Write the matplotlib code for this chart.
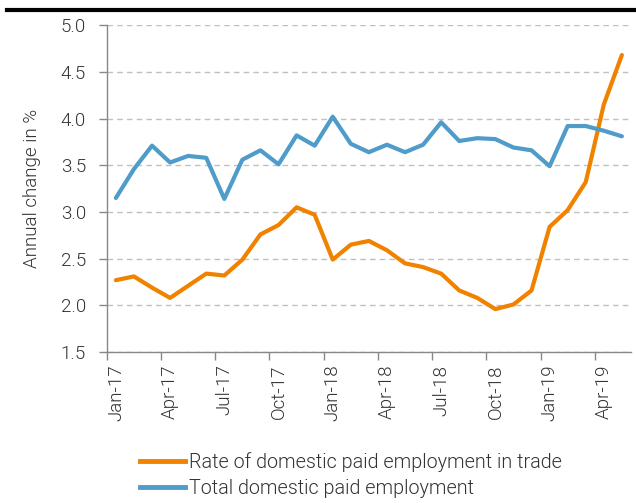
import matplotlib
matplotlib.use("Agg")
import matplotlib.pyplot as plt
from matplotlib.lines import Line2D

plt.rcParams["font.family"] = ["Roboto", "DejaVu Sans"]

# ── data ────────────────────────────────────────────
months = [
    "Jan-17", "Feb-17", "Mar-17", "Apr-17", "May-17", "Jun-17",
    "Jul-17", "Aug-17", "Sep-17", "Oct-17", "Nov-17", "Dec-17",
    "Jan-18", "Feb-18", "Mar-18", "Apr-18", "May-18", "Jun-18",
    "Jul-18", "Aug-18", "Sep-18", "Oct-18", "Nov-18", "Dec-18",
    "Jan-19", "Feb-19", "Mar-19", "Apr-19", "May-19",
]

trade = [
    2.27, 2.31, 2.19, 2.08, 2.21, 2.34, 2.32, 2.49, 2.76, 2.86,
    3.05, 2.97, 2.49, 2.65, 2.69, 2.59, 2.45, 2.41, 2.34, 2.16,
    2.08, 1.96, 2.01, 2.16, 2.84, 3.02, 3.32, 4.15, 4.68,
]

total = [
    3.15, 3.46, 3.71, 3.53, 3.60, 3.58, 3.14, 3.56, 3.66, 3.51,
    3.82, 3.71, 4.02, 3.73, 3.64, 3.72, 3.64, 3.72, 3.96, 3.76,
    3.79, 3.78, 3.69, 3.66, 3.49, 3.92, 3.92, 3.87, 3.81,
]

label_trade = "Rate of domestic paid employment in trade"
label_total = "Total domestic paid employment"

COLOR_TRADE = "#F08200"
COLOR_TOTAL = "#4F9BC9"
TEXT = "#333333"
FS = 13.5
W = 300

# ── plot ────────────────────────────────────────────
fig = plt.figure(figsize=(6.36, 5.03), dpi=100)
ax = fig.add_axes([0.168, 0.300, 0.824, 0.650])

x = list(range(len(months)))
ax.plot(x, trade, color=COLOR_TRADE, linewidth=3.0,
        solid_capstyle="round", solid_joinstyle="round", label=label_trade)
ax.plot(x, total, color=COLOR_TOTAL, linewidth=3.0,
        solid_capstyle="round", solid_joinstyle="round", label=label_total)

ax.set_xlim(-0.5, len(months) - 0.5)
ax.set_ylim(1.5, 5.0)

# y axis
yt = [1.5, 2.0, 2.5, 3.0, 3.5, 4.0, 4.5, 5.0]
ax.set_yticks(yt)
ax.set_yticklabels([f"{v:.1f}" for v in yt], fontsize=FS, color=TEXT,
                   fontweight=W)
ax.tick_params(axis="y", length=6, width=1, color="#888888", pad=9)
ax.yaxis.grid(True, linestyle=(0, (4, 3)), color="#c0c0c0", linewidth=1)
ax.set_axisbelow(True)
ax.set_ylabel("Annual change in %", fontsize=FS, color=TEXT,
              fontweight=W, labelpad=14)

# x axis: ticks at category boundaries, labels every 3rd month
ax.set_xticks([i - 0.5 for i in range(0, len(months) - 1, 3)])
ax.set_xticklabels([])
ax.tick_params(axis="x", which="major", length=6, width=1, color="#888888")
ax.set_xticks(list(range(0, len(months), 3)), minor=True)
ax.set_xticklabels(months[::3], minor=True, rotation=90, fontsize=FS,
                   color=TEXT, fontweight=W)
ax.tick_params(axis="x", which="minor", length=0, pad=9)

for s in ["top", "right"]:
    ax.spines[s].set_visible(False)
for s in ["left", "bottom"]:
    ax.spines[s].set_color("#888888")
    ax.spines[s].set_linewidth(1)

# legend
leg = fig.legend(
    handles=[
        Line2D([0], [0], color=COLOR_TRADE, linewidth=3.5),
        Line2D([0], [0], color=COLOR_TOTAL, linewidth=3.5),
    ],
    labels=[label_trade, label_total],
    loc="upper left",
    bbox_to_anchor=(0.22, 0.102),
    frameon=False,
    fontsize=14.2,
    handlelength=2.3,
    handletextpad=0.2,
    labelspacing=0.35,
    borderaxespad=0,
    borderpad=0,
)
for t in leg.get_texts():
    t.set_color(TEXT)
    t.set_fontweight(W)

# top rule
fig.add_artist(Line2D([0.011, 0.998], [0.980, 0.980], color="black",
                      linewidth=3, transform=fig.transFigure))

fig.savefig("out.png", dpi=100)
